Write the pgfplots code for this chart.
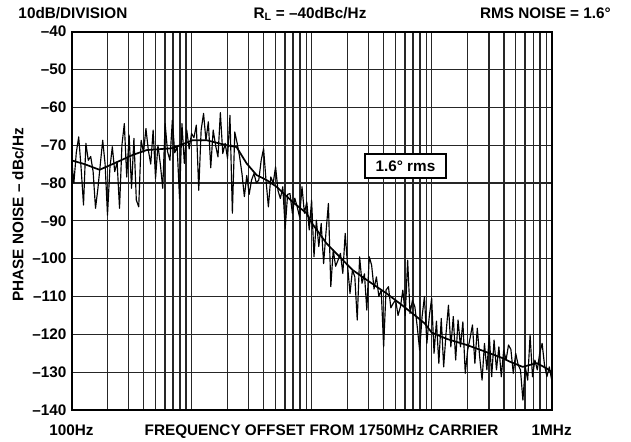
\documentclass[border=0pt]{standalone}
\usepackage{fontspec}
\setmainfont{Liberation Sans}
\usepackage{pgfplots}
\pgfplotsset{compat=1.18}
\usepackage{pgfplotstable}

% raw spectrum (Hz, dBc/Hz)
\pgfplotstableread{
f dB
1.000e2 -73.5
1.047e2 -80
1.096e2 -72
1.148e2 -67.8
1.202e2 -76
1.259e2 -85.8
1.318e2 -69.5
1.380e2 -74
1.445e2 -73
1.514e2 -77
1.585e2 -86.7
1.660e2 -81.4
1.738e2 -75
1.820e2 -68.7
1.905e2 -75
1.995e2 -88.5
2.089e2 -76
2.188e2 -70.4
2.291e2 -77
2.399e2 -74.5
2.512e2 -86.7
2.630e2 -70
2.754e2 -64.3
2.884e2 -78.4
3.020e2 -67.3
3.162e2 -81.4
3.311e2 -68.2
3.467e2 -84.5
3.631e2 -86.3
3.802e2 -68.7
3.981e2 -72
4.169e2 -65.6
4.365e2 -71.3
4.571e2 -75
4.786e2 -66
5.012e2 -78.8
5.248e2 -70
5.495e2 -75
5.754e2 -81.4
6.026e2 -64.3
6.310e2 -71.7
6.607e2 -74
6.918e2 -63.4
7.244e2 -72
7.586e2 -70.4
7.943e2 -84.1
8.318e2 -64.3
8.710e2 -74.8
9.120e2 -66
9.550e2 -71
1.000e3 -66.9
1.047e3 -68
1.096e3 -64.7
1.148e3 -81.9
1.202e3 -66
1.259e3 -61.6
1.318e3 -68.7
1.380e3 -63.8
1.445e3 -76
1.514e3 -66
1.585e3 -70
1.660e3 -73.1
1.738e3 -61.4
1.820e3 -72.2
1.905e3 -69.5
1.995e3 -73.5
2.089e3 -62.1
2.188e3 -88
2.291e3 -66.5
2.399e3 -69.5
2.512e3 -73
2.630e3 -77.5
2.754e3 -83.6
2.884e3 -78
3.020e3 -83
3.162e3 -79.2
3.311e3 -77.5
3.467e3 -80
3.631e3 -79.2
3.802e3 -74
3.981e3 -70.9
4.169e3 -79.2
4.365e3 -86.3
4.571e3 -78.4
4.786e3 -80
5.012e3 -75.7
5.248e3 -82
5.495e3 -84.1
5.754e3 -81
6.026e3 -92
6.310e3 -83
6.607e3 -82.8
6.918e3 -88
7.244e3 -84
7.586e3 -86.3
7.943e3 -89
8.318e3 -81
8.710e3 -88
9.120e3 -85
9.550e3 -92.4
1.000e4 -84.5
1.047e4 -99.5
1.096e4 -89.8
1.148e4 -96.8
1.202e4 -90.7
1.259e4 -101.3
1.318e4 -93
1.380e4 -85.4
1.445e4 -107.4
1.514e4 -97.7
1.585e4 -102
1.660e4 -100.4
1.738e4 -98.6
1.820e4 -103.9
1.905e4 -93.3
1.995e4 -102
2.089e4 -109.2
2.188e4 -103
2.291e4 -104.8
2.399e4 -116.2
2.512e4 -99.5
2.630e4 -106.5
2.754e4 -104
2.884e4 -113.6
3.020e4 -99.5
3.162e4 -101.7
3.311e4 -108
3.467e4 -104.8
3.631e4 -110
3.802e4 -108.3
3.981e4 -123.3
4.169e4 -108.3
4.365e4 -107.4
4.571e4 -113
4.786e4 -111.8
5.012e4 -110.9
5.248e4 -115
5.495e4 -112.7
5.754e4 -108.3
6.026e4 -115
6.310e4 -100.4
6.607e4 -114.5
6.918e4 -111
7.244e4 -112.7
7.586e4 -118
7.943e4 -124.2
8.318e4 -115.4
8.710e4 -110
9.120e4 -122.4
9.550e4 -115.3
1.000e5 -110.5
1.047e5 -125
1.096e5 -116.5
1.148e5 -127.7
1.202e5 -115.8
1.259e5 -128.6
1.318e5 -119.7
1.380e5 -112.3
1.445e5 -123.3
1.514e5 -115.3
1.585e5 -126.8
1.660e5 -116.2
1.738e5 -123.3
1.820e5 -116.7
1.905e5 -130.3
1.995e5 -124.2
2.089e5 -121
2.188e5 -117.5
2.291e5 -127.7
2.399e5 -118.4
2.512e5 -126
2.630e5 -132.1
2.754e5 -122.4
2.884e5 -129.4
3.020e5 -120.2
3.162e5 -131.2
3.311e5 -121.5
3.467e5 -129.4
3.631e5 -123.3
3.802e5 -131.2
3.981e5 -124.2
4.169e5 -126.8
4.365e5 -122.8
4.571e5 -124
4.786e5 -130.3
5.012e5 -125
5.248e5 -128
5.495e5 -129.4
5.754e5 -137.4
6.026e5 -128.6
6.310e5 -132.1
6.607e5 -120.2
6.918e5 -131.2
7.244e5 -126.8
7.586e5 -129.4
7.943e5 -125
8.318e5 -122.4
8.710e5 -128.1
9.120e5 -131.2
9.550e5 -128.6
1.000e6 -132.1
}\rawdata

% averaged curve
\pgfplotstableread{
f dB
100 -74
128.3 -75
171.1 -76.5
219.6 -75
322.3 -72.6
421.7 -71.3
694.4 -70.8
1019 -68.7
1334 -68.7
1957 -70
2371 -70.5
2873 -74.8
3481 -77.9
4217 -79.2
5109 -81
6944 -85
9085 -88
10000 -90.5
13340 -96
17110 -99.5
21960 -103
28730 -105.6
42170 -109.2
54120 -111.8
69440 -114.5
87420 -117.1
100000 -119.5
133400 -121.2
195700 -122.8
304300 -125
390600 -126.3
446700 -127.2
573400 -128.6
749900 -127.6
908500 -129
1000000 -130
}\avgdata

\begin{document}
\begin{tikzpicture}[font=\bfseries\fontsize{15.3bp}{18bp}\selectfont]
\begin{axis}[
    name=ax,
    scale only axis,
    width=480.2bp, height=378.3bp,
    xmode=log,
    xmin=100, xmax=1e6,
    ymin=-140, ymax=-40,
    xtick={1e2,1e3,1e4,1e5,1e6},
    xticklabels={100Hz,,,,1MHz},
    minor xtick={200,300,400,500,600,700,800,900,
                 2000,3000,4000,5000,6000,7000,8000,9000,
                 2e4,3e4,4e4,5e4,6e4,7e4,8e4,9e4,
                 2e5,3e5,4e5,5e5,6e5,7e5,8e5,9e5},
    ytick={-140,-130,-120,-110,-100,-90,-80,-70,-60,-50,-40},
    yticklabels={–140,–130,–120,–110,–100,–90,–80,–70,–60,–50,–40},
    major tick length=0pt, minor tick length=0pt,
    grid=both,
    major grid style={black!85, line width=1.2bp},
    minor grid style={black!85, line width=1.2bp},
    axis line style={black, line width=2bp},
    xticklabel style={inner sep=0pt, anchor=north, yshift=-15bp},
    yticklabel style={inner sep=0pt, anchor=east, xshift=-5bp},
]
\addplot[black, line width=1.15bp, line join=round] table[x=f, y=dB] {\rawdata};
\addplot[black, line width=1.7bp, line join=round] table[x=f, y=dB] {\avgdata};
\node[draw=black, line width=1.8bp, fill=white, minimum width=81bp,
      minimum height=24bp, inner sep=0pt] at (axis cs:6.05e4,-75.5) {1.6° rms};
\end{axis}

% outer texts, placed from the lower left corner of the axis box
\node[anchor=base west, inner sep=0pt] at ([shift={(-53.2bp,391.7bp)}]ax.south west) {10dB/DIVISION};
\node[anchor=base, inner sep=0pt] at ([shift={(238.5bp,391.7bp)}]ax.south west) {R\textsubscript{L} = –40dBc/Hz};
\node[anchor=base east, inner sep=0pt] at ([shift={(539.5bp,391.7bp)}]ax.south west) {RMS NOISE = 1.6°};
\node[anchor=north, inner sep=0pt] at ([shift={(250bp,-15bp)}]ax.south west) {FREQUENCY OFFSET FROM 1750MHz CARRIER};
\node[rotate=90, anchor=base, inner sep=0pt] at ([shift={(-48bp,195bp)}]ax.south west) {PHASE NOISE – dBc/Hz};

\pgfresetboundingbox
\path[use as bounding box] ([shift={(-71.5bp,-32bp)}]ax.south west) rectangle ([shift={(79.3bp,31.7bp)}]ax.north east);
\end{tikzpicture}
\end{document}
